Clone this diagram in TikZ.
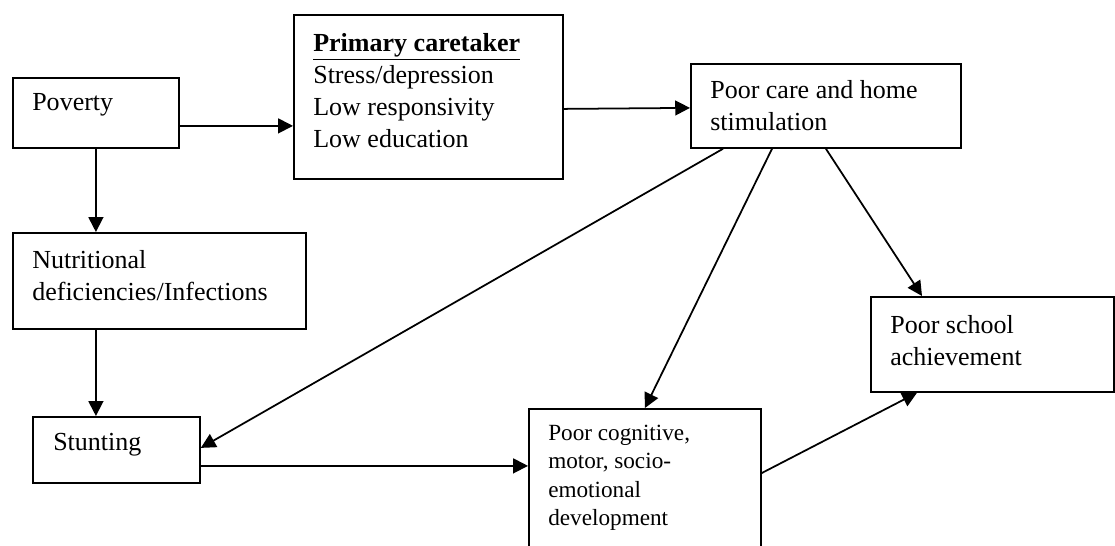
\documentclass[tikz,border=0pt]{standalone}
\usepackage{fontspec}
\setmainfont{Liberation Serif}
\usetikzlibrary{arrows.meta, positioning, calc}

\begin{document}
\begin{tikzpicture}[
  x=0.025cm, y=-0.025cm,
  cbox/.style={draw, line width=1.25pt, anchor=north west, inner sep=0pt},
  ctext/.style={anchor=north west, inner sep=0pt, align=left, font=\fontsize{18.5}{22.8}\selectfont},
  arr/.style={line width=1.25pt, -{Triangle[length=10.5pt, width=10.5pt]}}
]
  \useasboundingbox (0,0) rectangle (1115,545);

  % boxes
  \node[cbox, minimum width=4.15cm,  minimum height=1.75cm]  (pov)    at (12,77)   {};
  \node[cbox, minimum width=6.725cm, minimum height=4.1cm]   (care)   at (293,14)  {};
  \node[cbox, minimum width=6.75cm,  minimum height=2.1cm]   (pcare)  at (690,63)  {};
  \node[cbox, minimum width=7.325cm, minimum height=2.4cm]   (nutr)   at (12,232)  {};
  \node[cbox, minimum width=4.175cm, minimum height=1.65cm]  (stunt)  at (32,416)  {};
  \node[cbox, minimum width=5.8cm,   minimum height=3.75cm]  (cog)    at (528,408) {};
  \node[cbox, minimum width=6.075cm, minimum height=2.375cm] (school) at (870,296) {};

  % texts
  \node[ctext] (povt)    at (32,93)   {Poverty};
  \node[ctext] (caret)   at (313,33)  {\textbf{\underline{Primary caretaker}}\\Stress/depression\\Low responsivity\\Low education};
  \node[ctext] (pcaret)  at (710,80)  {Poor care and home\\stimulation};
  \node[ctext] (nutrt)   at (32,250)  {Nutritional\\deficiencies/Infections};
  \node[ctext] (stuntt)  at (53,433)  {Stunting};
  \node[ctext, font=\fontsize{16.5}{20.1}\selectfont] (cogt) at (548,425) {Poor cognitive,\\motor, socio-\\emotional\\development};
  \node[ctext] (schoolt) at (890,315) {Poor school\\achievement};

  % arrows
  \draw[arr] ($(pov.east)+(0,13)$) coordinate (p1) -- (p1 -| care.west);
  \draw[arr] ($(care.east)+(0,12)$) -- ($(pcare.west)+(0,2)$);
  \draw[arr] (pov.south) -- (pov.south |- nutr.north);
  \draw[arr] (pov.south |- nutr.south) -- (pov.south |- stunt.north);
  \draw[arr] ($(pcare.south west)+(33,0)$) -- ($(stunt.east)+(0,-2)$);
  \draw[arr] ($(pcare.south west)+(82,0)$) -- (cog.north);
  \draw[arr] (pcare.south) -- ($(school.north west)+(52,0)$);
  \draw[arr] ($(stunt.east)+(0,16)$) coordinate (p2) -- (p2 -| cog.west);
  \draw[arr] ($(cog.north east)+(0,65)$) -- ($(school.south west)+(47,0)$);
\end{tikzpicture}
\end{document}
